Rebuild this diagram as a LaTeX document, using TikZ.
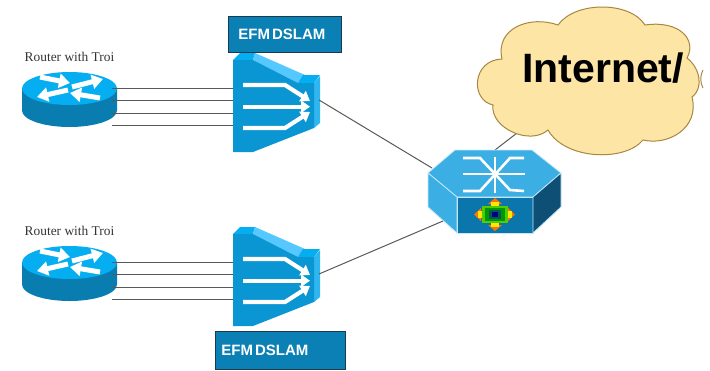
\documentclass[tikz,border=0pt]{standalone}
\usepackage{fontspec}
\setmainfont{Liberation Serif}
\setsansfont{Liberation Sans}
\usetikzlibrary{arrows.meta}
\definecolor{routertop}{HTML}{05AEF0}
\definecolor{routerbody}{HTML}{0A7DB0}
\definecolor{dslamface}{HTML}{0A96D2}
\definecolor{dslambevel}{HTML}{55C8FF}
\definecolor{dslamside}{HTML}{2FB6F0}
\definecolor{hubtop}{HTML}{3BAEE3}
\definecolor{hubfront}{HTML}{0B76AC}
\definecolor{hubside}{HTML}{0E5075}
\definecolor{cloudfill}{HTML}{FDE5A6}
\definecolor{cloudedge}{HTML}{A8873F}
\definecolor{labelfill}{HTML}{0B80B4}
\definecolor{labeledge}{HTML}{1B3A4B}
\tikzset{
  link/.style={draw=black!65,line width=1pt},
  whitearrow/.style={draw=white,line width=4.2pt,-{Triangle[length=9pt,width=12pt]}},
  routerarrow/.style={draw=white,line width=5pt,-{Triangle[length=11pt,width=14pt]}},
  hubline/.style={draw=white,line width=2.6pt},
  hubedge/.style={draw=white!70!hubtop,line width=0.8pt},
  boxlabel/.style={draw=labeledge,fill=labelfill,line width=0.8pt,text=white,
    font=\sffamily\bfseries\fontsize{15}{15}\selectfont,anchor=west,inner sep=0pt},
  routerlabel/.style={font=\fontsize{13.4}{14}\selectfont,text=black!80}
}
\begin{document}
\begin{tikzpicture}[x=1pt,y=-1pt]
\useasboundingbox (0,0) rectangle (710,370);
\foreach \n/\dy in {1/0,2/174} {
  \begin{scope}[yshift=-\dy pt]
  \fill[routerbody] (22,89) -- (22,110.5) arc[start angle=180,end angle=360,x radius=47.5pt,y radius=16.5pt] -- (117,89) -- cycle;
  \fill[routertop] (69.5,88.5) circle[x radius=47.5pt,y radius=16.5pt];
  \draw[routerarrow] (40,77) -- (70,83);
  \draw[routerarrow] (72,87) -- (103,79);
  \draw[routerarrow] (68,90) -- (37,97);
  \draw[routerarrow] (100,98) -- (70,93);
  \node[routerlabel] (label\n) at (69.5,57) {Router with Troi};
  \foreach \k/\yy in {a/88,b/100,c/113,d/125} {
    \coordinate (router\n\k) at (112,\yy);
    \coordinate (dslam\n\k) at (234,\yy);
    \draw[link] (router\n\k) -- (dslam\n\k);
  }
  \fill[routertop] (233,60) -- (240,53) -- (255,53) -- (253,60) -- cycle;
  \fill[dslambevel] (255,53) -- (305,75) -- (298,83) -- (253,60) -- cycle;
  \fill[routertop] (303,75) -- (320,75) -- (314,83) -- (298,83) -- cycle;
  \fill[dslamside] (314,83) -- (320,76) -- (320,123) -- (314,128) -- cycle;
  \fill[dslamface] (233,60) -- (253,60) -- (298,83) -- (314,83) -- (314,128) -- (253,152) -- (233,152) -- cycle;
  \draw[whitearrow] (243,85) -- (285,85) -- (310,101);
  \draw[whitearrow] (243,106.7) -- (310,106.7);
  \draw[whitearrow] (243,128) -- (285,128) -- (310,112);
  \coordinate (dslam\n out) at (319,100);
  \end{scope}
}
\coordinate (cloudout) at (517,133);
\coordinate (hub3) at (495,150);
\draw[link] (hub3) -- (cloudout);
\draw[fill=cloudfill,draw=cloudedge,line width=1pt] (493,105)
  .. controls (490,128) and (530,146) .. (548,130)
  .. controls (565,160) and (625,162) .. (643,140)
  .. controls (668,146) and (700,128) .. (692,97)
  .. controls (704,88) and (700,68) .. (687,58)
  .. controls (697,40) and (680,20) .. (645,25)
  .. controls (630,1) and (575,1) .. (558,25)
  .. controls (530,15) and (495,28) .. (502,59)
  .. controls (472,60) and (470,100) .. (493,105) -- cycle;
\draw[cloudedge,line width=1pt] (703,70) .. controls (700,75) and (700,83) .. (703,88);
\node[font=\sffamily\bfseries\fontsize{41}{41}\selectfont,anchor=base west,inner sep=0pt] (internet) at (522,82) {Internet/};
\fill[hubtop,hubedge] (428,173) -- (455,150) -- (532,150) -- (561,173) -- (533,197) -- (457,197) -- cycle;
\fill[hubtop,hubedge] (428,173) -- (457,197) -- (457,233) -- (428,207) -- cycle;
\fill[hubfront,hubedge] (457,197) -- (533,197) -- (533,233) -- (457,233) -- cycle;
\fill[hubside,hubedge] (561,173) -- (533,197) -- (533,233) -- (561,207) -- cycle;
\draw[hubline] (495,157) -- (495,193);
\draw[hubline] (463,174) -- (525,174);
\draw[hubline] (463,158) -- (480,158) -- (510,190) -- (524,191);
\draw[hubline] (463,191) -- (480,191) -- (510,158) -- (524,158);
\fill[orange!90!red] (495,198) -- (502,204) -- (488,204) -- cycle;
\fill[orange!90!red] (495,231) -- (502,225) -- (488,225) -- cycle;
\fill[orange!90!red] (474,214.5) -- (481,208) -- (481,221) -- cycle;
\fill[orange!90!red] (515,214.5) -- (508,208) -- (508,221) -- cycle;
\fill[yellow!90!orange] (491,202) rectangle (499,227);
\fill[yellow!90!orange] (478,211) rectangle (512,218);
\fill[green!60!yellow!80!black] (482,206) rectangle (508,223);
\fill[green!60!black] (485,208) rectangle (505,221);
\fill[teal!70!black] (489,210) rectangle (501,219);
\fill[blue!50!black] (492,212) rectangle (498,217);
\coordinate (hub1) at (432,168);
\coordinate (hub2) at (443,221);
\draw[link] (dslam1out) -- (hub1);
\draw[link] (dslam2out) -- (hub2);
\node[boxlabel,minimum width=113pt,minimum height=36pt,text width=113pt] (efm1) at (228,34) {\raisebox{-2pt}{\hspace{10pt}EFM\hspace{2pt}DSLAM}};
\node[boxlabel,minimum width=130pt,minimum height=38pt,text width=130pt] (efm2) at (215,350) {\raisebox{-2pt}{\hspace{6pt}EFM\hspace{2pt}DSLAM}};
\end{tikzpicture}
\end{document}
